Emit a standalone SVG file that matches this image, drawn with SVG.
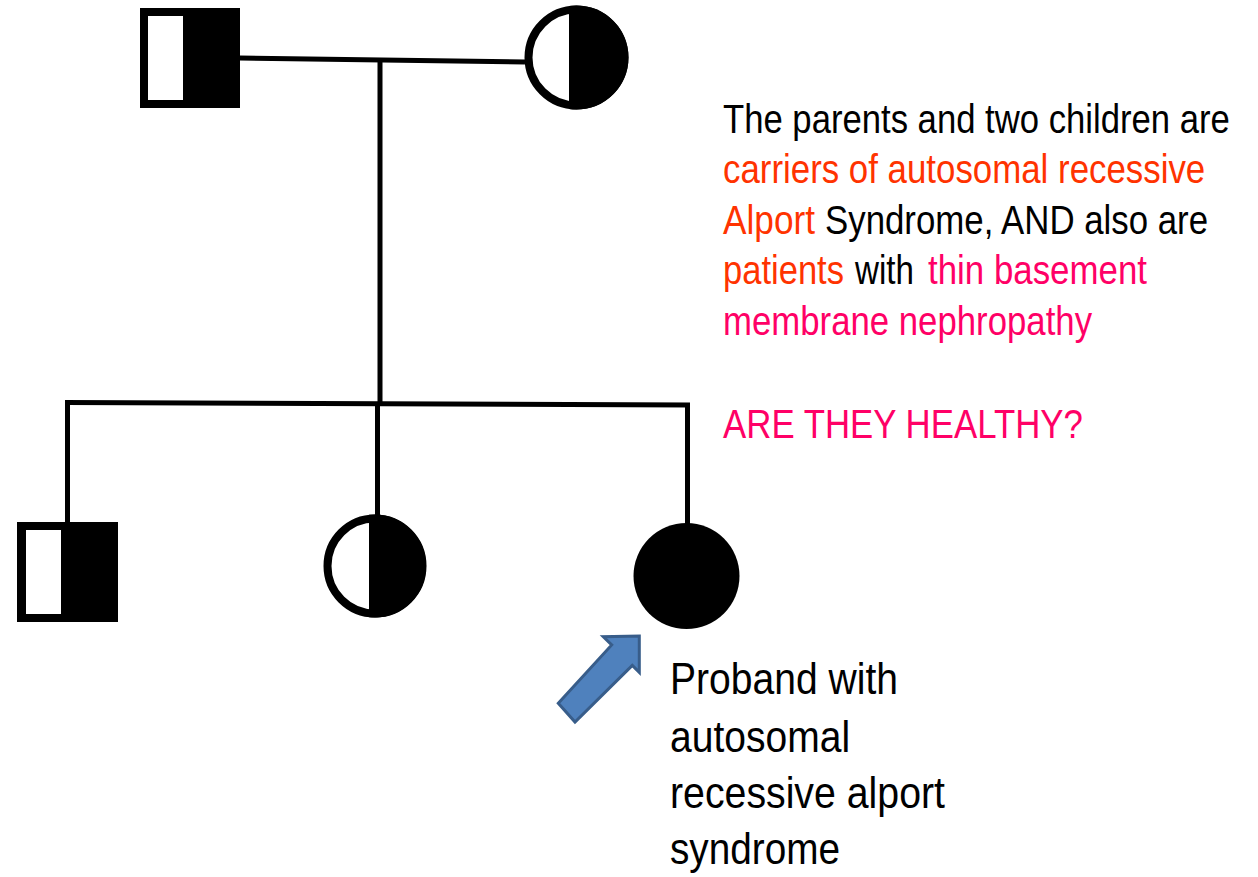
<svg xmlns="http://www.w3.org/2000/svg" width="1258" height="877" viewBox="0 0 1258 877">
<style>
.ln{stroke:#000;stroke-width:5;fill:none}
.blk{fill:#000}
.wht{fill:#fff}
.ring{fill:#fff;stroke:#000;stroke-width:8}
.txt{font-family:"Liberation Sans",Arial,sans-serif;font-size:41px;fill:#000}
.ptxt{font-family:"Liberation Sans",Arial,sans-serif;font-size:44px;fill:#000}
.or{fill:#FF3300}
.pk{fill:#FF0066}
.arrow{fill:#4F81BD;stroke:#385D8A;stroke-width:3;stroke-linejoin:miter}
</style>
<rect width="1258" height="877" fill="#fff"/>
<g id="connectors">
<line class="ln" x1="240" y1="58" x2="525" y2="62"/>
<line class="ln" x1="380" y1="60" x2="380" y2="404"/>
<line class="ln" x1="65" y1="402.5" x2="690" y2="405"/>
<line class="ln" x1="67.5" y1="400" x2="67.5" y2="523"/>
<line class="ln" x1="377.5" y1="404" x2="377.5" y2="516"/>
<line class="ln" x1="687.5" y1="403" x2="687.5" y2="525"/>
</g>
<g id="father">
<rect class="blk" x="140" y="8" width="100" height="100"/>
<rect class="wht" x="148" y="16" width="35" height="84"/>
</g>
<g id="mother">
<circle class="ring" cx="576.5" cy="57.5" r="48"/>
<path class="blk" d="M569,6.04 A52,52 0 1,1 569,108.96 Z"/>
</g>
<g id="son">
<rect class="blk" x="17" y="522" width="101" height="100"/>
<rect class="wht" x="26" y="530" width="35" height="84"/>
</g>
<g id="daughter">
<circle class="ring" cx="375" cy="566" r="47.5"/>
<path class="blk" d="M369,514.8 A51.5,51.5 0 1,1 369,617.2 Z"/>
</g>
<g id="proband">
<circle class="blk" cx="686.5" cy="576" r="53"/>
</g>
<g id="proband-arrow">
<polygon class="arrow" points="558.3,703.3 611.7,644.9 603.3,636.7 639.3,636 639.3,672.3 632.3,665.4 575,722"/>
</g>
<g id="description" transform="translate(723,0) scale(0.846,1)">
<text class="txt" x="0" y="133" textLength="599" lengthAdjust="spacingAndGlyphs">The parents and two children are</text>
<text class="txt or" x="0" y="183" textLength="570" lengthAdjust="spacingAndGlyphs">carriers of autosomal recessive</text>
<text class="txt or" x="0" y="234" textLength="108.7" lengthAdjust="spacingAndGlyphs">Alport</text>
<text class="txt" x="120.6" y="234" textLength="452.7" lengthAdjust="spacingAndGlyphs">Syndrome, AND also are</text>
<text class="txt or" x="0" y="284" textLength="143" lengthAdjust="spacingAndGlyphs">patients</text>
<text class="txt" x="156" y="284" textLength="69.7" lengthAdjust="spacingAndGlyphs">with</text>
<text class="txt pk" x="242.3" y="284" textLength="258.9" lengthAdjust="spacingAndGlyphs">thin basement</text>
<text class="txt pk" x="0" y="335" textLength="436.2" lengthAdjust="spacingAndGlyphs">membrane nephropathy</text>
<text class="txt pk" x="0" y="438" textLength="425.5" lengthAdjust="spacingAndGlyphs">ARE THEY HEALTHY?</text>
</g>
<g id="proband-label" transform="translate(670,0) scale(0.887,1)">
<text class="ptxt" x="0" y="694" textLength="257" lengthAdjust="spacingAndGlyphs">Proband with</text>
<text class="ptxt" x="0" y="752" textLength="203" lengthAdjust="spacingAndGlyphs">autosomal</text>
<text class="ptxt" x="0" y="808" textLength="310" lengthAdjust="spacingAndGlyphs">recessive alport</text>
<text class="ptxt" x="0" y="864" textLength="191.7" lengthAdjust="spacingAndGlyphs">syndrome</text>
</g>
</svg>
